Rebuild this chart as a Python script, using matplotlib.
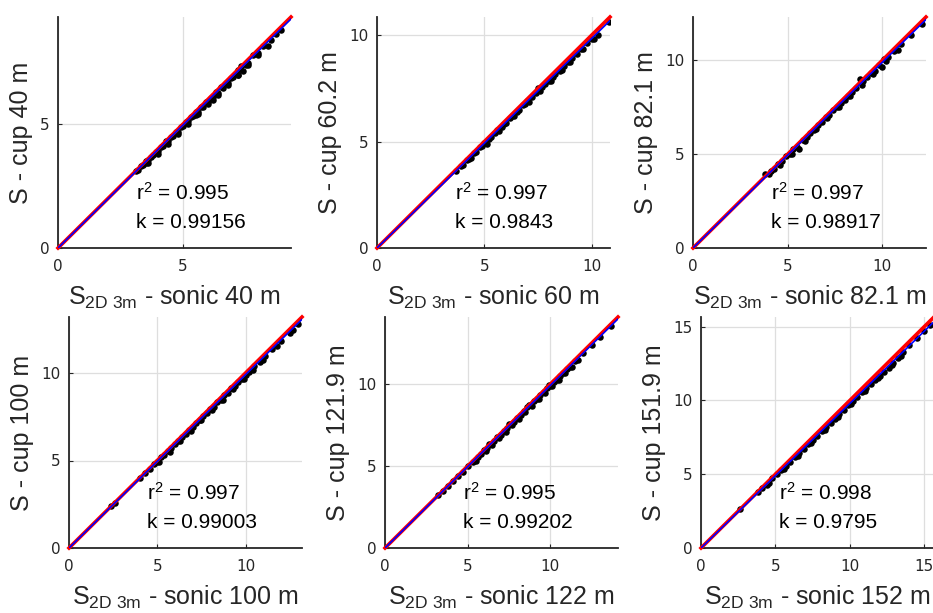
import matplotlib
matplotlib.use("Agg")
import matplotlib.pyplot as plt

plt.rcParams['mathtext.fontset'] = 'custom'
plt.rcParams['mathtext.rm'] = 'Liberation Sans'
plt.rcParams['mathtext.it'] = 'Liberation Sans:italic'

# heights of the six cup / sonic pairs
cup_heights = ["40", "60.2", "82.1", "100", "121.9", "151.9"]
sonic_heights = ["40", "60", "82.1", "100", "122", "152"]
r2_values = ["0.995", "0.997", "0.997", "0.997", "0.995", "0.998"]
k_values = [0.99156, 0.9843, 0.98917, 0.99003, 0.99202, 0.9795]
k_labels = ["0.99156", "0.9843", "0.98917", "0.99003", "0.99202", "0.9795"]
axis_max = [9.32, 10.85, 12.3, 13.2, 14.1, 15.65]
tick_sets = [[0, 5], [0, 5, 10], [0, 5, 10], [0, 5, 10], [0, 5, 10], [0, 5, 10, 15]]

# scatter values (sonic on x, cup on y)
x1 = [3.1, 3.2, 3.3, 3.4, 3.5, 3.5, 3.6, 3.7, 3.8, 3.9, 4.0, 4.1, 4.2, 4.3, 4.4, 4.5, 4.6, 4.7,
      4.8, 4.9, 5.0, 5.1, 5.2, 5.3, 5.4, 5.5, 5.5, 5.6, 5.7, 5.8, 5.9, 6.0, 6.1, 6.2, 6.2, 6.3,
      6.4, 6.5, 6.6, 6.7, 6.8, 6.9, 7.0, 7.1, 7.2, 7.2, 7.3, 7.4, 7.5, 7.6, 7.8, 8.0, 8.2, 8.5,
      8.7, 8.9, 3.6, 4.0, 4.4, 4.8, 5.2, 5.6, 6.0, 6.4, 6.8, 7.2, 7.6, 8.0, 8.4]
y1 = [3.10, 3.14, 3.29, 3.33, 3.49, 3.42, 3.55, 3.69, 3.74, 3.89, 3.93, 4.08, 4.13, 4.30, 4.33,
      4.49, 4.52, 4.67, 4.70, 4.88, 4.91, 5.08, 5.12, 5.30, 5.31, 5.49, 5.36, 5.50, 5.68, 5.69,
      5.88, 5.88, 6.07, 6.09, 5.98, 6.28, 6.27, 6.48, 6.46, 6.67, 6.64, 6.86, 6.88, 7.02, 7.18,
      6.98, 7.34, 7.16, 7.38, 7.47, 7.77, 7.85, 8.15, 8.38, 8.62, 8.80, 3.42, 3.81, 4.21, 4.60,
      5.00, 5.40, 5.79, 6.19, 6.58, 6.98, 7.37, 7.77, 8.17]

x2 = [3.7, 3.9, 4.0, 4.2, 4.3, 4.5, 4.6, 4.8, 4.9, 5.0, 5.2, 5.3, 5.5, 5.6, 5.8, 5.9, 6.0, 6.2,
      6.3, 6.5, 6.6, 6.8, 6.9, 7.0, 7.2, 7.4, 7.5, 7.7, 7.8, 8.0, 8.2, 8.3, 8.5, 8.7, 8.9, 9.1,
      9.3, 9.5, 9.8, 10.0, 10.3, 10.8, 4.4, 5.1, 5.7, 6.4, 7.1, 7.6, 8.1, 8.6, 9.0, 9.6, 10.1]
y2 = [3.64, 3.85, 3.92, 4.15, 4.20, 4.44, 4.51, 4.74, 4.80, 4.93, 5.10, 5.23, 5.40, 5.52, 5.69,
      5.82, 5.89, 6.11, 6.18, 6.41, 6.47, 6.70, 6.77, 6.90, 7.07, 7.30, 7.50, 7.56, 7.70, 7.85,
      8.05, 8.19, 8.33, 8.55, 8.72, 8.94, 9.13, 9.33, 9.61, 9.82, 10.00, 10.60, 4.21, 4.90,
      5.49, 6.18, 6.87, 7.36, 7.85, 8.34, 8.74, 9.33, 9.82]

x3 = [3.8, 4.0, 4.1, 4.3, 4.5, 4.7, 4.9, 5.1, 5.3, 5.5, 5.6, 5.8, 6.0, 6.2, 6.4, 6.6, 6.8, 7.0,
      7.2, 7.4, 7.6, 7.8, 8.0, 8.2, 8.4, 8.6, 8.8, 9.0, 9.2, 9.4, 9.6, 9.8, 10.0, 10.1, 10.3,
      10.6, 11.0, 11.5, 12.1, 4.6, 5.2, 5.9, 6.5, 7.1, 7.7, 8.3, 8.9, 9.5, 10.2, 10.8]
y3 = [3.95, 3.95, 4.08, 4.22, 4.48, 4.62, 4.88, 5.02, 5.26, 5.40, 5.25, 5.75, 5.92, 6.15, 6.30,
      6.55, 6.70, 6.95, 7.10, 7.35, 7.50, 7.72, 7.90, 8.12, 8.28, 8.52, 9.00, 8.88, 9.10, 9.30,
      9.45, 9.75, 9.65, 10.05, 10.15, 10.48, 10.88, 11.35, 11.95, 4.43, 5.02, 5.72, 6.31, 6.90,
      7.50, 8.09, 8.68, 9.28, 9.97, 10.56]

x4 = [2.4, 2.6, 4.0, 4.3, 4.6, 4.8, 5.0, 5.2, 5.4, 5.6, 5.8, 6.0, 6.2, 6.4, 6.6, 6.8, 7.0, 7.2,
      7.4, 7.6, 7.8, 8.0, 8.2, 8.4, 8.6, 8.8, 9.0, 9.2, 9.4, 9.6, 9.8, 10.0, 10.2, 10.5, 10.8,
      11.1, 11.5, 12.0, 12.5, 13.0, 5.1, 5.7, 6.3, 6.9, 7.5, 8.1, 8.7, 9.3, 9.9, 10.4, 11.0,
      11.8, 12.7]
y4 = [2.42, 2.55, 4.02, 4.30, 4.52, 4.78, 4.92, 5.18, 5.30, 5.55, 5.72, 5.96, 6.12, 6.35, 6.50,
      6.75, 6.90, 7.15, 7.30, 7.55, 7.70, 7.93, 8.08, 8.33, 8.48, 8.73, 8.88, 9.12, 9.28, 9.50,
      9.65, 9.88, 10.05, 10.38, 10.65, 10.95, 11.40, 11.85, 12.30, 12.80, 4.92, 5.51, 6.11,
      6.70, 7.30, 7.89, 8.48, 9.08, 9.67, 10.17, 10.76, 11.55, 12.44]

x5 = [3.2, 3.5, 3.8, 4.1, 4.4, 4.7, 5.0, 5.3, 5.6, 5.8, 6.0, 6.2, 6.4, 6.6, 6.8, 7.0, 7.2, 7.4,
      7.6, 7.8, 8.0, 8.2, 8.4, 8.6, 8.8, 9.0, 9.2, 9.4, 9.6, 9.8, 10.0, 10.2, 10.4, 10.6, 10.8,
      11.0, 11.2, 11.5, 12.0, 12.5, 13.0, 13.7, 5.5, 6.1, 6.5, 6.9, 7.3, 7.7, 8.1, 8.5, 8.9,
      9.3, 9.7, 10.1, 10.5, 10.9, 11.3, 11.7, 6.3, 7.5, 8.7, 9.9]
y5 = [3.22, 3.46, 3.76, 4.10, 4.40, 4.64, 4.98, 5.25, 5.57, 5.72, 5.98, 6.12, 6.36, 6.52, 6.76,
      6.92, 7.16, 7.32, 7.56, 7.72, 7.96, 8.10, 8.36, 8.62, 8.72, 8.95, 9.10, 9.34, 9.50, 9.74,
      9.90, 10.14, 10.28, 10.52, 10.66, 10.92, 11.05, 11.40, 11.88, 12.40, 12.90, 13.55, 5.31,
      5.90, 6.30, 6.69, 7.09, 7.49, 7.89, 8.28, 8.68, 9.08, 9.47, 9.87, 10.27, 10.66, 11.06,
      11.46, 6.35, 7.55, 8.75, 9.95]

x6 = [2.6, 3.8, 4.1, 4.4, 4.8, 5.1, 5.4, 5.7, 6.0, 6.3, 6.6, 6.9, 7.2, 7.5, 7.8, 8.1, 8.4, 8.7,
      9.0, 9.3, 9.6, 9.9, 10.2, 10.5, 10.8, 11.1, 11.4, 11.7, 12.0, 12.3, 12.6, 12.9, 13.2, 13.6,
      14.0, 14.5, 15.0, 15.4, 4.6, 5.6, 6.5, 7.4, 8.3, 9.2, 10.1, 11.0, 11.9, 12.8, 13.4]
y6 = [2.62, 3.78, 4.05, 4.30, 4.72, 4.98, 5.26, 5.55, 5.84, 6.14, 6.42, 6.72, 7.02, 7.30, 7.60,
      7.90, 8.18, 8.48, 8.76, 9.07, 9.36, 9.66, 9.95, 10.24, 10.54, 10.84, 11.10, 11.38, 11.68,
      11.92, 12.22, 12.52, 12.90, 13.30, 13.72, 14.20, 14.70, 15.10, 4.39, 5.37, 6.25, 7.13,
      8.01, 8.90, 9.78, 10.66, 11.54, 12.42, 13.01]

xs = [x1, x2, x3, x4, x5, x6]
ys = [y1, y2, y3, y4, y5, y6]

# axes boxes in figure pixels: left, top
boxes = [(58, 17), (377, 17), (693, 17), (69, 317), (385, 317), (701, 317)]
W, H = 933, 613
aw, ah = 233, 231

fig = plt.figure(figsize=(9.33, 6.13), dpi=100)
dark = '#262626'

for i in range(6):
    left, top = boxes[i]
    ax = fig.add_axes([left / W, 1 - (top + ah) / H, aw / W, ah / H])
    m = axis_max[i]
    ax.set_xlim(0, m)
    ax.set_ylim(0, m)
    ax.set_xticks(tick_sets[i])
    ax.set_yticks(tick_sets[i])
    ax.grid(True, color='#dedede', linewidth=0.9)
    ax.set_axisbelow(True)

    ax.scatter(xs[i], ys[i], s=22, color='black', linewidths=0, zorder=2)
    ax.plot([0, m], [0, m], color='red', linewidth=2.6, zorder=3, clip_on=False)
    ax.plot([0, m], [0, k_values[i] * m], color='blue', linewidth=1.2, zorder=4)

    for side in ['top', 'right']:
        ax.spines[side].set_visible(False)
    for side in ['left', 'bottom']:
        ax.spines[side].set_color(dark)
        ax.spines[side].set_linewidth(1.3)
    ax.tick_params(axis='both', direction='in', length=3, color=dark,
                   labelcolor=dark, labelsize=11)
    ax.tick_params(axis='x', pad=8)
    ax.tick_params(axis='y', pad=6)

    ax.set_ylabel("S - cup " + cup_heights[i] + " m", fontsize=18,
                  family='Liberation Sans', color=dark, labelpad=5)
    ax.set_xlabel(r"S$_{\mathrm{2D\ 3m}}$ - sonic " + sonic_heights[i] + " m", fontsize=18,
                  family='Liberation Sans', color=dark, labelpad=7)

    ax.text(0.335, 0.24, r"r$^{\mathrm{2}}$ = " + r2_values[i], transform=ax.transAxes,
            fontsize=15, family='Liberation Sans', ha='left', va='center', zorder=5)
    ax.text(0.335, 0.11, "k = " + k_labels[i], transform=ax.transAxes,
            fontsize=15, family='Liberation Sans', ha='left', va='center', zorder=5)

fig.savefig("out.png", dpi=100)
